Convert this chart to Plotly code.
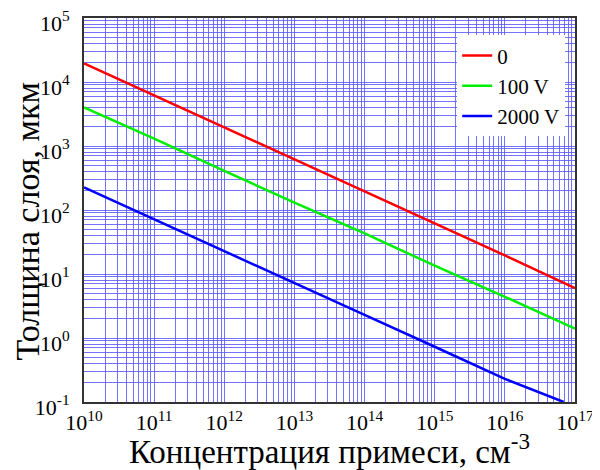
import plotly.graph_objects as go

# концентрация примеси, см^-3
conc = [1e10, 1e11, 1e12, 1e13, 1e14, 1e15, 1e16, 1e17]
conc_blue = [1e10, 1e11, 1e12, 1e13, 1e14, 1e15, 1e16, 6.9e16]

# толщина слоя, мкм
w_0 = [1.95e4, 6.2e3, 1.95e3, 620, 195, 62, 19.5, 6.0]
w_100 = [4.0e3, 1.3e3, 410, 130, 43, 13.5, 4.4, 1.4]
w_2000 = [225, 72, 23, 7.3, 2.3, 0.73, 0.23, 0.1]

x_ticks = [1e10, 1e11, 1e12, 1e13, 1e14, 1e15, 1e16, 1e17]
x_text = ["10<sup>10</sup>", "10<sup>11</sup>", "10<sup>12</sup>", "10<sup>13</sup>",
          "10<sup>14</sup>", "10<sup>15</sup>", "10<sup>16</sup>", "10<sup>17</sup>"]
y_ticks = [1e-1, 1e0, 1e1, 1e2, 1e3, 1e4, 1e5]
y_text = ["10<sup>-1</sup>", "10<sup>0</sup>", "10<sup>1</sup>", "10<sup>2</sup>",
          "10<sup>3</sup>", "10<sup>4</sup>", "10<sup>5</sup>"]

# минорная сетка: 2..9 в каждой декаде
x_minor = [m * 10 ** p for p in range(10, 17) for m in range(2, 10)]
y_minor = [m * 10.0 ** p for p in range(-1, 5) for m in range(2, 10)]

serif = "Liberation Serif"
grid_color = "rgba(90,90,255,0.85)"

fig = go.Figure()
fig.add_trace(go.Scatter(x=conc, y=w_0, mode="lines", name="0",
                         line=dict(color="#ff0000", width=2.5)))
fig.add_trace(go.Scatter(x=conc, y=w_100, mode="lines", name="100 V",
                         line=dict(color="#00ee00", width=2.5)))
fig.add_trace(go.Scatter(x=conc_blue, y=w_2000, mode="lines", name="2000 V",
                         line=dict(color="#0000ff", width=2.5)))

axis_common = dict(
    type="log", automargin=False,
    showgrid=True, gridcolor=grid_color, gridwidth=1,
    showline=True, linecolor="#333", linewidth=2, mirror=True,
    ticks="", zeroline=False, ticklabeloverflow="allow",
    tickfont=dict(family=serif, size=22, color="black"),
)

fig.update_xaxes(axis_common, range=[10, 17], tickvals=x_ticks, ticktext=x_text,
                 minor=dict(tickmode="array", tickvals=x_minor, showgrid=True,
                            gridcolor=grid_color, gridwidth=1, ticks=""),
                 title=dict(text="Концентрация примеси, см<sup>-3</sup>",
                            font=dict(family=serif, size=33, color="black")))
fig.update_yaxes(axis_common, range=[-1, 5], tickvals=y_ticks, ticktext=y_text,
                 ticklabelstandoff=8, ticklabelshift=5,
                 minor=dict(tickmode="array", tickvals=y_minor, showgrid=True,
                            gridcolor=grid_color, gridwidth=1, ticks=""))

# подпись оси Y отдельной аннотацией, чтобы не наезжала на метки
fig.add_annotation(text="Толщина слоя, мкм", textangle=-90,
                   xref="paper", yref="paper", x=-0.116, y=0.47,
                   xanchor="center", yanchor="middle", showarrow=False,
                   font=dict(family=serif, size=34, color="black"))

# страница сдвигает график на 8px (отступ body)
fig.update_layout(
    width=592, height=462,
    margin=dict(l=76, r=25, t=10, b=68),
    paper_bgcolor="white", plot_bgcolor="white",
    font=dict(family=serif, color="black"),
    legend=dict(x=0.98, y=0.955, xanchor="right", yanchor="top",
                bgcolor="white", borderwidth=0,
                font=dict(family=serif, size=21, color="black"),
                tracegroupgap=0),
    showlegend=True,
)

fig.write_html("out.html")
